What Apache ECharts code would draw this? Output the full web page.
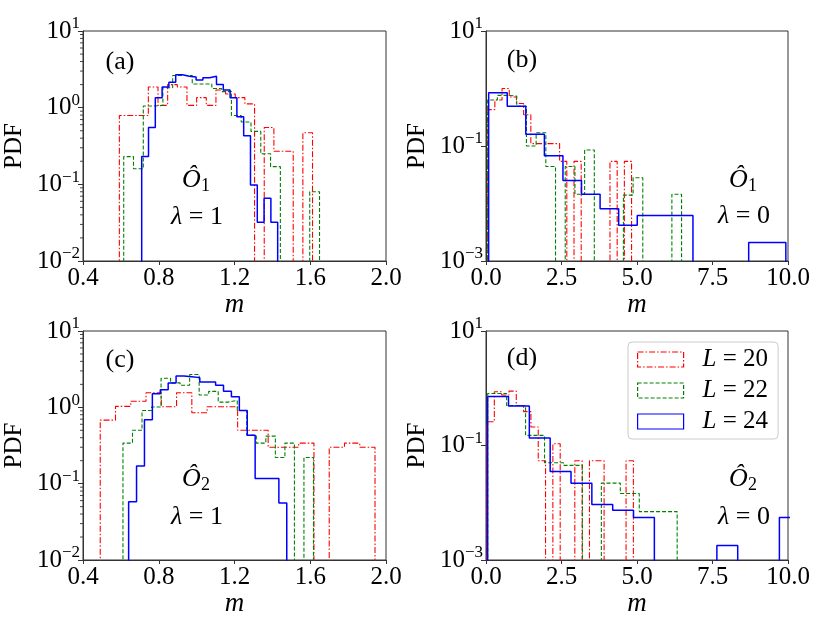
<!DOCTYPE html>
<html>
<head>
<meta charset="utf-8">
<script src="https://cdn.jsdelivr.net/npm/echarts@6/dist/echarts.min.js"></script>
<style>
  html, body { margin: 0; padding: 0; background: #fff; }
  #chart { width: 830px; height: 623px; }
</style>
</head>
<body>
<div id="chart"></div>
<script>
// histogram bins: [first edge, last edge] + PDF per equal-width bin (0 = empty bin)

// (a) O1, lambda = 1
const aRedRange = [0.592, 1.612];
const aRed = [0.79, 0.79, 0.79, 1.86, 1.07, 2.0, 1.86, 1.07, 1.35, 1.07, 1.7, 1.51, 1.35, 1.12, 0, 0.55, 0.27, 0.27, 0, 0.47];
const aGreenRange = [0.615, 1.649];
const aGreen = [0.23, 0.16, 1.05, 1.07, 1.82, 2.63, 2.63, 2.04, 2.04, 1.78, 1.62, 0.79, 0.65, 0.49, 0.25, 0.17, 0, 0, 0, 0.08];
const aBlueRange = [0.71, 1.428];
const aBlue = [0.23, 0.55, 1.35, 1.86, 2.14, 2.69, 2.57, 2.51, 2.29, 2.45, 2.57, 2.0, 1.7, 1.35, 0.76, 0.43, 0.098, 0.032, 0.066, 0.032];

// (b) O1, lambda = 0
const bRedRange = [0.055, 4.82];
const bRed = [0.43, 0.63, 1.0, 0.71, 0.55, 0.35, 0.11, 0.11, 0.11, 0.11, 0.054, 0, 0.054, 0, 0, 0, 0, 0.054, 0, 0.054];
const bGreenRange = [0.055, 6.476];
const bGreen = [0.63, 0.76, 0.74, 0.49, 0.10, 0.17, 0.044, 0, 0.044, 0.0145, 0.085, 0, 0, 0, 0.014, 0.028, 0, 0, 0, 0.0145];
const bBlueRange = [0.088, 9.928];
const bBlue = [0.84, 0.49, 0.16, 0.068, 0.025, 0.0145, 0.0081, 0.0042, 0.0062, 0.0062, 0.0062, 0, 0, 0, 0.0021, 0.0021];

// (c) O2, lambda = 1
const cRedRange = [0.491, 1.942];
const cRed = [0.68, 1.03, 1.2, 1.55, 1.02, 1.55, 0.85, 1.02, 1.02, 0.5, 0.5, 0.3, 0.3, 0.34, 0, 0.3, 0.34, 0.3];
const cGreenRange = [0.611, 1.617];
const cGreen = [0.34, 0.5, 0.91, 1.01, 2.4, 2.09, 1.95, 2.69, 1.45, 1.62, 1.17, 1.23, 0.91, 0.43, 0.34, 0.42, 0.22, 0.34, 0, 0.22];
const cBlueRange = [0.641, 1.476];
const cBlue = [0.058, 0.17, 0.69, 1.51, 1.7, 2.09, 2.57, 2.51, 2.45, 2.14, 2.14, 1.95, 1.62, 1.38, 0.91, 0.43, 0.117, 0.117, 0.117, 0.056];

// (d) O2, lambda = 0
const dRedRange = [0.033, 4.88];
const dRed = [0.26, 0.87, 0.76, 0.89, 0.5, 0.39, 0.21, 0.054, 0, 0.107, 0, 0, 0.054, 0, 0.054, 0.054, 0, 0, 0, 0.054];
const dGreenRange = [0.055, 6.33];
const dGreen = [0.81, 0.5, 0.15, 0.05, 0.045, 0, 0.022, 0.0145, 0.007, 0.007];
const dBlueRange = [0.055, 10.405];
const dBlue = [0.72, 0.49, 0.135, 0.035, 0.022, 0.0093, 0.0074, 0.0055, 0, 0, 0, 0.0018, 0, 0, 0.0055];

// ticks
const mTicksL1 = [0.4, 0.8, 1.2, 1.6, 2.0];
const mTicksL0 = [0, 2.5, 5, 7.5, 10];
const pdfTicksL1 = [0.01, 0.1, 1, 10];
const pdfTicksL0 = [0.001, 0.1, 10];
const seriesNames = ['L = 20', 'L = 22', 'L = 24'];

const F = '"Liberation Serif", "DejaVu Serif", serif';
const INK = '#333';
const FLOOR = 1e-6; // below every axis, so empty bins drop out of the frame

const lineStyles = {
  'L = 20': { color: '#ff0000', width: 1.1, type: [6, 2, 1.5, 2] },
  'L = 22': { color: '#008000', width: 1.1, type: [4, 2] },
  'L = 24': { color: '#0000ff', width: 1.5, type: 'solid' }
};

function stepPoints(range, vals) {
  const w = (range[1] - range[0]) / vals.length;
  const pts = [[range[0], FLOOR]];
  vals.forEach((v, i) => {
    const y = v > 0 ? v : FLOOR;
    pts.push([range[0] + i * w, y], [range[0] + (i + 1) * w, y]);
  });
  pts.push([range[1], FLOOR]);
  return pts;
}

function hist(name, idx, range, vals) {
  const s = lineStyles[name];
  return {
    name: name, type: 'line', xAxisIndex: idx, yAxisIndex: idx,
    data: stepPoints(range, vals), symbol: 'none', showSymbol: false,
    lineStyle: { color: s.color, width: s.width, type: s.type },
    itemStyle: { color: s.color }, clip: true, silent: true
  };
}

function powLabel(v) {
  const e = Math.round(Math.log10(v));
  return '{b|10}{s|' + (e < 0 ? '\u2212' + (-e) : e) + '}';
}

// log minor ticks 2..9 x 10^k for the lambda = 1 panels
const minorVals = [];
[0.01, 0.1, 1].forEach(d => { for (let k = 2; k <= 9; k++) minorVals.push(+(k * d).toPrecision(3)); });

function minorTicks(idx, xMin) {
  return {
    type: 'custom', xAxisIndex: idx, yAxisIndex: idx, silent: true,
    data: minorVals.map(v => [xMin, v]),
    renderItem: function (params, api) {
      const p = api.coord([api.value(0), api.value(1)]);
      return { type: 'line', shape: { x1: p[0] - 3, y1: p[1], x2: p[0], y2: p[1] },
               style: { stroke: INK, lineWidth: 0.9 } };
    }
  };
}

const grids = [
  { left: 83, top: 31, width: 303, height: 230 },
  { left: 486, top: 31, width: 302, height: 230 },
  { left: 83, top: 331, width: 303, height: 229 },
  { left: 486, top: 331, width: 302, height: 229 }
].map(g => Object.assign(g, { show: true, borderColor: INK, borderWidth: 1, backgroundColor: 'transparent' }));

function xAxis(idx, min, max, ticks) {
  return {
    type: 'value', gridIndex: idx, min: min, max: max,
    name: '{i|m}', nameLocation: 'middle', nameGap: 22,
    nameTextStyle: { rich: { i: { fontFamily: F, fontStyle: 'italic', fontSize: 27, color: '#000' } } },
    axisLine: { lineStyle: { color: INK, width: 1 } },
    axisTick: { customValues: ticks, length: 4, lineStyle: { color: INK } },
    axisLabel: { customValues: ticks, formatter: v => v.toFixed(1), margin: 5,
                 fontFamily: F, fontSize: 25, color: '#000' },
    splitLine: { show: false }
  };
}

const labelRich = {
  b: { fontFamily: F, fontSize: 25, color: '#000', verticalAlign: 'middle' },
  s: { fontFamily: F, fontSize: 17, color: '#000', verticalAlign: 'middle', padding: [0, 0, 14, 0] }
};

function yAxis(idx, min, max, ticks) {
  return {
    type: 'log', logBase: 10, gridIndex: idx, min: min, max: max,
    name: 'PDF', nameLocation: 'middle', nameGap: 56,
    nameTextStyle: { fontFamily: F, fontSize: 25, color: '#000' },
    axisLine: { show: true, lineStyle: { color: INK, width: 1 } },
    axisTick: { customValues: ticks, length: 5, lineStyle: { color: INK } },
    axisLabel: { customValues: ticks, formatter: powLabel, margin: 3, rich: labelRich },
    splitLine: { show: false }, minorTick: { show: false }
  };
}

const series = [
  hist('L = 20', 0, aRedRange, aRed), hist('L = 22', 0, aGreenRange, aGreen), hist('L = 24', 0, aBlueRange, aBlue),
  hist('L = 20', 1, bRedRange, bRed), hist('L = 22', 1, bGreenRange, bGreen), hist('L = 24', 1, bBlueRange, bBlue),
  hist('L = 20', 2, cRedRange, cRed), hist('L = 22', 2, cGreenRange, cGreen), hist('L = 24', 2, cBlueRange, cBlue),
  hist('L = 20', 3, dRedRange, dRed), hist('L = 22', 3, dGreenRange, dGreen), hist('L = 24', 3, dBlueRange, dBlue),
  minorTicks(0, 0.4), minorTicks(2, 0.4)
];

const textRich = {
  t: { fontFamily: F, fontSize: 26, fill: '#000', verticalAlign: 'middle' },
  i: { fontFamily: F, fontSize: 26, fontStyle: 'italic', fill: '#000', verticalAlign: 'middle' },
  sub: { fontFamily: F, fontSize: 18, fill: '#000', verticalAlign: 'middle', padding: [12, 0, 0, 0] }
};

function note(x, y, text) {
  return { type: 'text', x: x, y: y, z: 100,
           style: { text: text, rich: textRich, fontFamily: F, fontSize: 26, fill: '#000',
                    align: 'center', verticalAlign: 'middle' } };
}

const chart = echarts.init(document.getElementById('chart'), null, { renderer: 'canvas' });
chart.setOption({
  animation: false,
  backgroundColor: '#fff',
  grid: grids,
  xAxis: [xAxis(0, 0.4, 2.0, mTicksL1), xAxis(1, 0, 10, mTicksL0), xAxis(2, 0.4, 2.0, mTicksL1), xAxis(3, 0, 10, mTicksL0)],
  yAxis: [yAxis(0, 0.01, 10, pdfTicksL1), yAxis(1, 0.001, 10, pdfTicksL0), yAxis(2, 0.01, 10, pdfTicksL1), yAxis(3, 0.001, 10, pdfTicksL0)],
  legend: {
    orient: 'vertical', left: 628, top: 342,
    padding: [5, 10, 5, 9], itemGap: 6, itemWidth: 46, itemHeight: 15,
    backgroundColor: 'rgba(255,255,255,0.8)', borderColor: '#cccccc', borderWidth: 1, borderRadius: 4,
    selectedMode: false,
    formatter: name => '{i|L} = ' + name.split('= ')[1],
    textStyle: { fontFamily: F, fontSize: 25, color: '#000', padding: [0, 0, 0, 14],
                 rich: { i: { fontFamily: F, fontSize: 25, fontStyle: 'italic', color: '#000' } } },
    data: seriesNames.map(n => ({
      name: n, icon: 'rect',
      itemStyle: { color: 'transparent', borderColor: lineStyles[n].color, borderWidth: 1.2,
                   borderType: lineStyles[n].type }
    }))
  },
  graphic: [
    note(120, 62, '{t|(a)}'), note(522, 60, '{t|(b)}'), note(120, 360, '{t|(c)}'), note(522, 358, '{t|(d)}'),
    note(196, 180, '{i|\u00d4}{sub|1}'), note(197, 217, '{i|\u03bb} = 1'),
    note(743, 180, '{i|\u00d4}{sub|1}'), note(744, 216, '{i|\u03bb} = 0'),
    note(196, 479, '{i|\u00d4}{sub|2}'), note(197, 517, '{i|\u03bb} = 1'),
    note(743, 479, '{i|\u00d4}{sub|2}'), note(744, 517, '{i|\u03bb} = 0')
  ],
  series: series
});
</script>
</body>
</html>
